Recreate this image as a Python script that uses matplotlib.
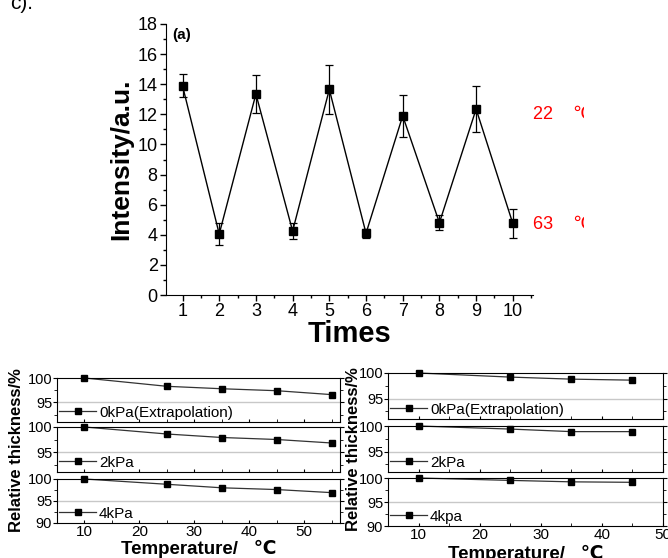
import matplotlib
matplotlib.use("Agg")
import matplotlib.pyplot as plt
from matplotlib.ticker import MultipleLocator
from matplotlib.transforms import Bbox, TransformedBbox

plt.rcParams['font.family'] = ['Liberation Sans', 'DejaVu Sans']

# cycling test: intensity at 22 / 63 degC
times = [1, 2, 3, 4, 5, 6, 7, 8, 9, 10]
intensity = [13.9, 4.05, 13.35, 4.25, 13.65, 4.1, 11.9, 4.8, 12.35, 4.75]
intensity_err = [0.75, 0.75, 1.25, 0.5, 1.65, 0.3, 1.4, 0.5, 1.5, 0.95]

# relative thickness vs temperature, left group
temp_left = [10, 25, 35, 45, 55]
left_0kpa = [100, 98.3, 97.8, 97.4, 96.6]
left_2kpa = [100, 98.6, 97.9, 97.5, 96.8]
left_4kpa = [100, 98.8, 98.0, 97.6, 96.9]

# right group
temp_right = [10, 25, 35, 45]
right_0kpa = [100, 99.2, 98.8, 98.6]
right_2kpa = [100, 99.4, 98.9, 98.9]
right_4kpa = [100, 99.5, 99.2, 99.1]

labels_left = ['0kPa(Extrapolation)', '2kPa', '4kPa']
labels_right = ['0kPa(Extrapolation)', '2kPa', '4kpa']

W, H = 668, 558
fig = plt.figure(figsize=(W / 100, H / 100), dpi=100)


def box(x0, y0, x1, y1):
    # pixel box (top-left origin) -> figure fraction rect
    return [x0 / W, 1 - y1 / H, (x1 - x0) / W, (y1 - y0) / H]


fig.text(10 / W, 1 - 9 / H, 'c).', fontsize=15, va='baseline', ha='left')

# ---- top panel ----
ax = fig.add_axes(box(166, 24, 533, 295))
ax.errorbar(times, intensity, yerr=intensity_err, color='black', lw=1,
            marker='s', ms=5.5, capsize=3, elinewidth=0.9, capthick=0.9)
ax.set_xlim(0.55, 10.55)
ax.set_ylim(0, 18)
ax.xaxis.set_major_locator(MultipleLocator(1))
ax.xaxis.set_minor_locator(MultipleLocator(0.5))
ax.yaxis.set_major_locator(MultipleLocator(2))
ax.yaxis.set_minor_locator(MultipleLocator(1))
ax.spines['top'].set_visible(False)
ax.spines['right'].set_visible(False)
ax.tick_params(which='major', direction='out', length=4, width=1, labelsize=13, pad=2)
ax.tick_params(which='minor', direction='out', length=2.5, width=1)
ax.set_ylabel('Intensity/a.u.', fontsize=19, fontweight='bold', labelpad=3)
ax.set_xlabel('Times', fontsize=21, fontweight='bold', labelpad=0)
ax.text(0.017, 0.985, '(a)', transform=ax.transAxes, fontsize=11, fontweight='bold',
        va='top', ha='left')

clip = TransformedBbox(Bbox([[0, 0], [584 / W, 1]]), fig.transFigure)
for yv, txt in [(12, '22    ℃'), (4.7, '63    ℃')]:
    t = ax.text(10.55, yv, txt, color='red', fontsize=13, va='center', ha='left')
    t.set_clip_on(True)
    t.set_clip_box(clip)


# ---- bottom panels ----
def stack(x0, x1, rows, temps, series, labels, xlim, ylab_x, xlab_base):
    axes = []
    for i, ((y0, y1), vals, lab) in enumerate(zip(rows, series, labels)):
        a = fig.add_axes(box(x0, y0, x1, y1))
        a.axhline(95, color='#c8c8c8', lw=1, zorder=0)
        a.plot(temps, vals, color='#333333', lw=0.9, marker='s', ms=4,
               mfc='black', mec='black', clip_on=False, label=lab)
        a.set_xlim(*xlim)
        a.set_ylim(90 if i == 2 else 91, 100)
        a.yaxis.set_major_locator(MultipleLocator(5))
        a.yaxis.set_minor_locator(MultipleLocator(2.5))
        a.xaxis.set_major_locator(MultipleLocator(10))
        a.xaxis.set_minor_locator(MultipleLocator(5))
        a.tick_params(axis='y', which='major', direction='out', length=3, labelsize=10.5, pad=0.5)
        a.tick_params(axis='y', which='minor', direction='out', length=2)
        a.tick_params(axis='x', which='both', direction='in', length=2.5, top=False)
        a.tick_params(axis='y', which='both', right=True)
        a.tick_params(axis='x', labelsize=11, pad=1.5)
        if i < 2:
            a.tick_params(axis='x', labelbottom=False)
        a.legend(loc='lower left', frameon=False, fontsize=11, handlelength=2.4,
                 borderaxespad=0.0, borderpad=0.15, handletextpad=0.2)
        axes.append(a)
    fig.text(ylab_x / W, 1 - ((rows[0][0] + rows[2][1]) / 2) / H, 'Relative thickness/%',
             rotation=90, fontsize=12, fontweight='bold', ha='center', va='center')
    fig.text(((x0 + x1) / 2) / W, 1 - xlab_base / H, 'Temperature/   ℃',
             fontsize=13.5, fontweight='bold', ha='center', va='baseline')
    return axes


stack(57, 340, [(378, 422), (427, 472), (479, 523)], temp_left,
      [left_0kpa, left_2kpa, left_4kpa], labels_left, (5, 56.5), 17, 554)
stack(388, 663, [(373, 419), (426, 472), (478, 526)], temp_right,
      [right_0kpa, right_2kpa, right_4kpa], labels_right, (5, 50), 353, 559)

fig.savefig('out.png', dpi=100)
